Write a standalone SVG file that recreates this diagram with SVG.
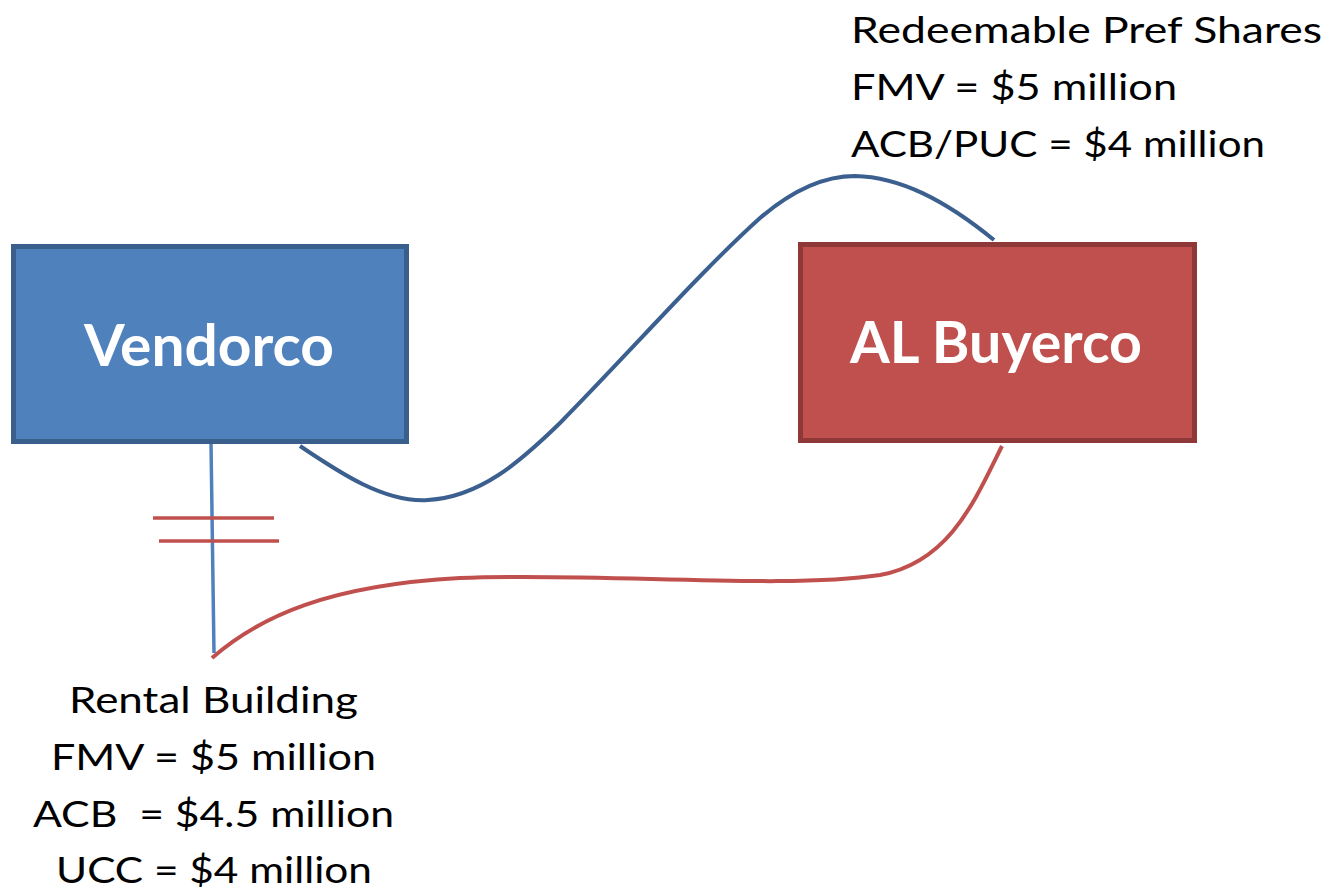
<svg xmlns="http://www.w3.org/2000/svg" width="1334" height="889" viewBox="0 0 1334 889">
  <style>
    .box-blue { fill: #4F81BD; stroke: #3A5F8C; stroke-width: 5; }
    .box-red { fill: #C0504D; stroke: #8E3937; stroke-width: 5; }
    .title { font-family: Lato, "Open Sans", "Liberation Sans", sans-serif; font-weight: bold; font-size: 58px; fill: #FFFFFF; text-anchor: middle; }
    .note { font-family: Lato, "Open Sans", "Liberation Sans", sans-serif; font-size: 36px; fill: #000000; }
    .mid { text-anchor: middle; }
    .link-blue { fill: none; stroke: #3B5F8F; stroke-width: 4; }
    .link-red { fill: none; stroke: #C0504D; stroke-width: 4; }
    .tick { fill: none; stroke: #C0504D; stroke-width: 3.5; }
    .stem { fill: none; stroke: #4F81BD; stroke-width: 3.5; }
  </style>

  <rect width="1334" height="889" fill="#FFFFFF"/>

  <!-- connectors -->
  <g id="connectors">
    <path class="stem" d="M211,443 L214,653"/>
    <line class="tick" x1="153" y1="518" x2="274" y2="518"/>
    <line class="tick" x1="159" y1="541" x2="279" y2="541"/>
    <path class="link-blue" d="M300,446 C340,473 385,503 428,500 C480,497 520,462 560,423 C630,352 700,272 760,218 C795,188 825,176 855,176 C900,177 945,200 994,240"/>
    <path class="link-red" d="M212,658 C260,616 330,585 460,578 C600,572 780,590 880,575 C950,562 975,500 1002,446"/>
  </g>

  <!-- Vendorco -->
  <g id="vendorco">
    <rect class="box-blue" x="13.5" y="246.5" width="393" height="195"/>
    <text class="title" x="209" y="366" textLength="250" lengthAdjust="spacingAndGlyphs">Vendorco</text>
  </g>

  <!-- AL Buyerco -->
  <g id="al-buyerco">
    <rect class="box-red" x="800.5" y="244.5" width="394" height="196"/>
    <text class="title" x="996" y="363" textLength="292" lengthAdjust="spacingAndGlyphs">AL Buyerco</text>
  </g>

  <!-- share terms -->
  <g id="pref-shares">
    <text class="note" x="851" y="43" textLength="471" lengthAdjust="spacingAndGlyphs">Redeemable Pref Shares</text>
    <text class="note" x="851" y="100" textLength="326" lengthAdjust="spacingAndGlyphs">FMV = $5 million</text>
    <text class="note" x="851" y="157" textLength="414" lengthAdjust="spacingAndGlyphs">ACB/PUC = $4 million</text>
  </g>

  <!-- building terms -->
  <g id="rental-building">
    <text class="note mid" x="213.5" y="713" textLength="289" lengthAdjust="spacingAndGlyphs">Rental Building</text>
    <text class="note mid" x="213.5" y="770" textLength="325" lengthAdjust="spacingAndGlyphs">FMV = $5 million</text>
    <text class="note mid" x="213.5" y="827" textLength="361" lengthAdjust="spacingAndGlyphs" xml:space="preserve">ACB  = $4.5 million</text>
    <text class="note mid" x="214" y="883" textLength="316" lengthAdjust="spacingAndGlyphs">UCC = $4 million</text>
  </g>
</svg>
